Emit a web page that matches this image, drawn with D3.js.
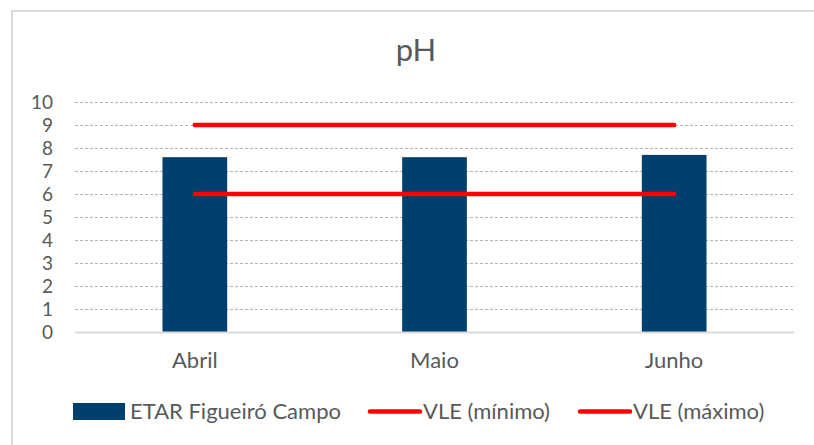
<!DOCTYPE html>
<html>
<head>
<meta charset="utf-8">
<script src="https://cdn.jsdelivr.net/npm/d3@7.9.0/dist/d3.min.js"></script>
<style>
  html, body { margin: 0; padding: 0; background: #fff; }
  svg { display: block; font-family: Lato, "Open Sans", sans-serif; }
</style>
</head>
<body>
<div id="chart"></div>
<script>
const months = ['Abril', 'Maio', 'Junho'];
const etarValues = [7.6, 7.6, 7.7];
const vleMin = [6, 6, 6];
const vleMax = [9, 9, 9];
const yTicks = [0, 1, 2, 3, 4, 5, 6, 7, 8, 9, 10];

const width = 814, height = 445;
const plot = { left: 75, right: 794, top: 102, bottom: 332 };
const textColor = '#595959';

const svg = d3.select('#chart')
  .append('svg')
  .attr('width', width)
  .attr('height', height);

// chart frame
svg.append('rect')
  .attr('x', 12).attr('y', 11)
  .attr('width', width).attr('height', height)
  .attr('fill', 'none')
  .attr('stroke', '#d9d9d9')
  .attr('stroke-width', 2);

svg.append('text')
  .attr('x', 416).attr('y', 61)
  .attr('text-anchor', 'middle')
  .attr('font-size', 31)
  .attr('fill', textColor)
  .text('pH');

const x = d3.scaleBand()
  .domain(months)
  .range([plot.left, plot.right])
  .paddingInner(0.73)
  .paddingOuter(0.365);

const y = d3.scaleLinear()
  .domain([0, 10])
  .range([plot.bottom, plot.top]);

// gridlines
svg.append('g')
  .selectAll('line')
  .data(yTicks.filter(d => d > 0))
  .join('line')
    .attr('x1', plot.left).attr('x2', plot.right)
    .attr('y1', d => Math.round(y(d)) + 0.5)
    .attr('y2', d => Math.round(y(d)) + 0.5)
    .attr('stroke', '#b4b4b4')
    .attr('stroke-dasharray', '3,2');

// y labels
svg.append('g')
  .selectAll('text')
  .data(yTicks)
  .join('text')
    .attr('x', 53)
    .attr('y', d => y(d) + 7)
    .attr('text-anchor', 'end')
    .attr('font-size', 19)
    .attr('fill', textColor)
    .text(d => d);

// bars
svg.append('g')
  .selectAll('rect')
  .data(etarValues)
  .join('rect')
    .attr('x', (d, i) => x(months[i]))
    .attr('y', d => y(d))
    .attr('width', x.bandwidth())
    .attr('height', d => y(0) - y(d))
    .attr('fill', '#003f6e');

// axis baseline
svg.append('line')
  .attr('x1', plot.left).attr('x2', plot.right)
  .attr('y1', plot.bottom + 0.5).attr('y2', plot.bottom + 0.5)
  .attr('stroke', '#d9d9d9')
  .attr('stroke-width', 2);

// x labels
svg.append('g')
  .selectAll('text')
  .data(months)
  .join('text')
    .attr('x', d => x(d) + x.bandwidth() / 2)
    .attr('y', 368)
    .attr('text-anchor', 'middle')
    .attr('font-size', 22)
    .attr('fill', textColor)
    .text(d => d);

// VLE lines
const line = d3.line()
  .x((d, i) => x(months[i]) + x.bandwidth() / 2)
  .y(d => y(d));

[vleMin, vleMax].forEach(series => {
  svg.append('path')
    .datum(series)
    .attr('d', line)
    .attr('fill', 'none')
    .attr('stroke', '#ff0000')
    .attr('stroke-width', 4.5)
    .attr('stroke-linecap', 'round');
});

// legend
const legend = svg.append('g').attr('font-size', 22).attr('fill', textColor);
legend.append('rect')
  .attr('x', 73).attr('y', 403).attr('width', 52).attr('height', 17)
  .attr('fill', '#003f6e');
legend.append('text').attr('x', 130).attr('y', 419).text('ETAR Figueiró Campo');

[['VLE (mínimo)', 368], ['VLE (máximo)', 578]].forEach(([label, lx]) => {
  legend.append('line')
    .attr('x1', lx + 2).attr('x2', lx + 52)
    .attr('y1', 411.5).attr('y2', 411.5)
    .attr('stroke', '#ff0000')
    .attr('stroke-width', 4.5)
    .attr('stroke-linecap', 'round');
  legend.append('text').attr('x', lx + 55).attr('y', 419).text(label);
});
</script>
</body>
</html>
